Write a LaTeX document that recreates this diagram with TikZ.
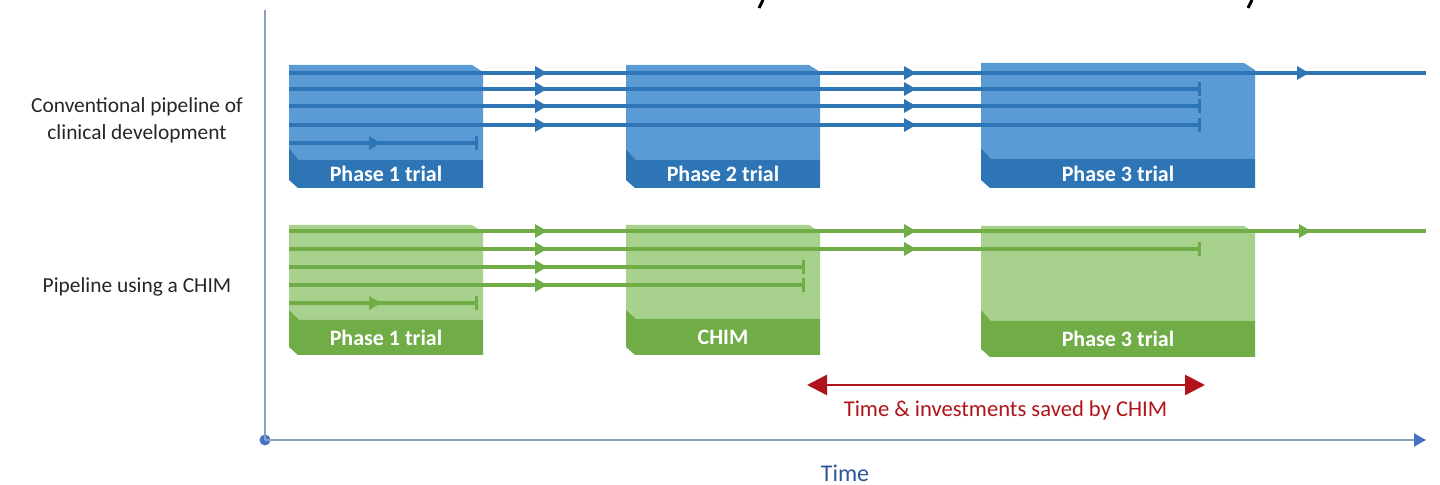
\documentclass[tikz,border=0pt]{standalone}
\usepackage{fontspec}
\setmainfont{Carlito}
\usetikzlibrary{arrows.meta}
\definecolor{bLight}{HTML}{5B9BD5}
\definecolor{bDark}{HTML}{2E75B6}
\definecolor{gLight}{HTML}{A9D18E}
\definecolor{gDark}{HTML}{70AD47}
\definecolor{axisGray}{HTML}{8EA0B8}
\definecolor{axisBlue}{HTML}{4472C4}
\definecolor{saveRed}{HTML}{B0141A}
\definecolor{timeBlue}{HTML}{2F5597}
\definecolor{labGray}{HTML}{262626}
\tikzset{
  boxtext/.style={text=white, font=\bfseries\fontsize{11}{13}\selectfont, inner sep=0pt},
  lab/.style={text=labGray, font=\fontsize{10.7}{13.5}\selectfont, align=center, inner sep=0pt},
  bl/.style={bDark, line width=1.6pt},
  gl/.style={gDark, line width=1.6pt},
  stopbar/.style={-{Bar[width=7pt]}},
  midtri/.pic={\fill (0,0) -- (-12,-7) -- (-12,7) -- cycle;},
  axisline/.style={axisGray, line width=1pt},
}
\newcommand{\pbox}[9]{%
  \fill[#7Light] (#1,#3) -- ({#2-11},#3) -- (#2,{#3+7}) -- (#2,#5) -- ({#1+10},#5) -- (#1,#4) -- cycle;
  \fill[#7Dark] (#1,#4) -- ({#1+10},#5) -- (#2,#5) -- (#2,#6) -- ({#1+9},#6) -- (#1,{#6-8}) -- cycle;
  \node[boxtext] (#9) at ({(#1+#2)/2},{(#5+#6)/2}) {#8};
}
\begin{document}
\begin{tikzpicture}[x=0.5pt,y=-0.5pt]
\useasboundingbox (0,0) rectangle (1440,485);
% cropped fragments at top
\draw[black, line width=1.5pt] (763,0) -- (759,8);
\draw[black, line width=1.5pt] (1252,0) -- (1248,8);
% axes
\node[circle, fill=axisBlue, minimum size=5.5pt, inner sep=0pt] (origin) at (265,440) {};
\coordinate (ytop) at (265,10);
\coordinate (xend) at (1426,440);
\draw[axisline] (origin.center) -- (ytop);
\draw[axisline, -{Triangle[length=6pt,width=6.5pt,color=axisBlue]}] (origin.center) -- (xend);
\node[text=timeBlue, font=\fontsize{12}{14}\selectfont, inner sep=0pt] (time) at (845,473) {Time};
% row labels
\node[lab] (conv) at (137,120.5) {Conventional pipeline of\\clinical development};
\node[lab] (chimlab) at (137,287) {Pipeline using a CHIM};
% blue boxes
\pbox{289}{483}{65}{148}{160}{188}{b}{Phase 1 trial}{b1}
\pbox{626}{820}{65}{149}{160}{188}{b}{Phase 2 trial}{b2}
\pbox{981}{1255}{63}{148}{159}{188}{b}{Phase 3 trial}{b3}
% green boxes
\pbox{289}{483}{225}{310}{320}{355}{g}{Phase 1 trial}{g1}
\pbox{626}{820}{225}{310}{319}{355}{g}{CHIM}{g2}
\pbox{981}{1255}{226}{310}{321}{357}{g}{Phase 3 trial}{g3}
% blue lines
\draw[bl] (289,73) -- (1426,73);
\draw[bl, stopbar] (289,89) -- (1201,89);
\draw[bl, stopbar] (289,106) -- (1201,106);
\draw[bl, stopbar] (289,125) -- (1201,125);
\draw[bl, stopbar] (289,143) -- (478,143);
\foreach \y in {73,89,106,125} {
  \pic[bDark] at (547,\y) {midtri};
  \pic[bDark] at (916,\y) {midtri};
}
\pic[bDark] at (1309,73) {midtri};
\pic[bDark] at (381,143) {midtri};
% green lines
\draw[gl] (289,231) -- (1426,231);
\draw[gl, stopbar] (289,249) -- (1201,249);
\draw[gl, stopbar] (289,267) -- (805,267);
\draw[gl, stopbar] (289,285) -- (805,285);
\draw[gl, stopbar] (289,303) -- (478,303);
\foreach \y in {231,249,267,285} {
  \pic[gDark] at (547,\y) {midtri};
}
\pic[gDark] at (916,231) {midtri};
\pic[gDark] at (916,249) {midtri};
\pic[gDark] at (1311,231) {midtri};
\pic[gDark] at (381,303) {midtri};
% saved time arrow
\coordinate (sL) at (807,385);
\coordinate (sR) at (1205,385);
\draw[saveRed, line width=1.3pt, {Triangle[length=10pt,width=10pt]}-{Triangle[length=10pt,width=10pt]}] (sL) -- (sR);
\node[text=saveRed, font=\fontsize{11.3}{13}\selectfont, inner sep=0pt] (saved) at (1005.5,410) {Time \& investments saved by CHIM};
\end{tikzpicture}
\end{document}
